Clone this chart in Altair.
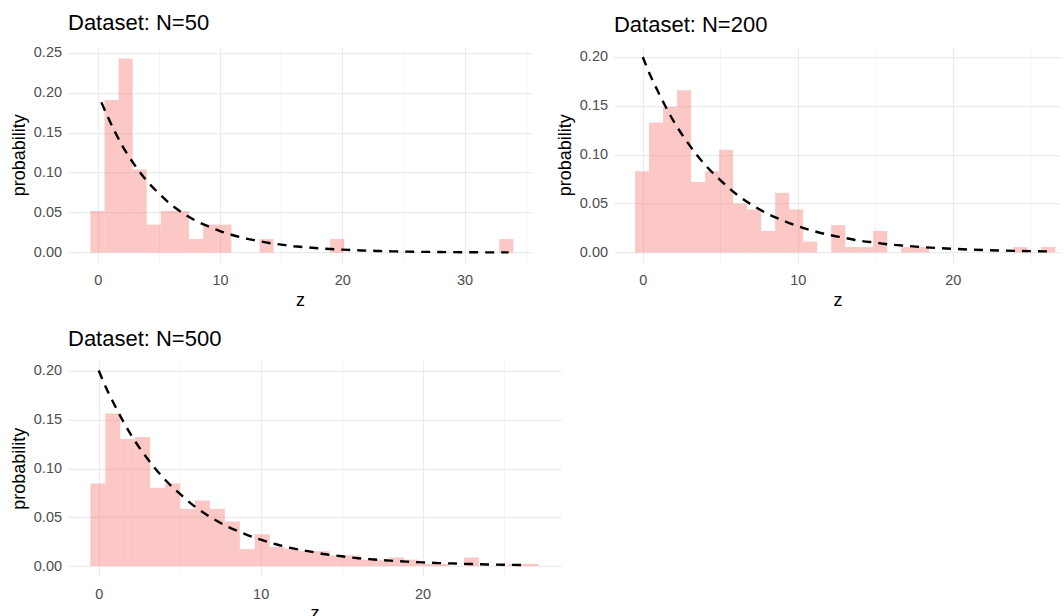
import altair as alt
import pandas as pd

FONT = "Liberation Sans"
BAR_COLOR = "#F8766D"

# ---------------- data ----------------
# Panel titles
titles = ["Dataset: N=50", "Dataset: N=200", "Dataset: N=500"]

# Histogram bins: first bin edge and bin width (z units), and bar heights (probability density)
p1_start, p1_width = -0.6, 1.153
p1_prob = [0.052, 0.191, 0.243, 0.104, 0.035, 0.052, 0.052, 0.017, 0.035, 0.035,
           0.0, 0.0, 0.017, 0.0, 0.0, 0.0, 0.0, 0.017, 0.0, 0.0,
           0.0, 0.0, 0.0, 0.0, 0.0, 0.0, 0.0, 0.0, 0.0, 0.017]

p2_start, p2_width = -0.5, 0.904
p2_prob = [0.083, 0.133, 0.149, 0.166, 0.072, 0.083, 0.105, 0.050, 0.044, 0.022,
           0.061, 0.044, 0.011, 0.0, 0.028, 0.0055, 0.0055, 0.022, 0.0, 0.0055,
           0.0055, 0.0, 0.0, 0.0, 0.0, 0.0, 0.0, 0.0055, 0.0, 0.0055]

p3_start, p3_width = -0.52, 0.923
p3_prob = [0.0845, 0.156, 0.130, 0.132, 0.080, 0.0845, 0.0585, 0.067, 0.0585, 0.0455,
           0.0173, 0.0325, 0.0195, 0.0173, 0.0152, 0.0152, 0.0108, 0.0108, 0.0065, 0.0065,
           0.0087, 0.0065, 0.0022, 0.0022, 0.0, 0.0087, 0.0, 0.0, 0.0022, 0.0022]

# Dashed reference density curve
curve_z = [0, 0.3, 1, 2, 3, 4, 5, 6, 7, 8, 9, 10, 11, 12, 13, 14, 15, 16, 17, 18,
           19, 20, 21, 22, 23, 24, 25, 26, 26.3, 27, 28, 29, 30, 31, 32, 33, 33.6]
curve_p = [0.200, 0.188, 0.164, 0.134, 0.110, 0.090, 0.074, 0.060, 0.049, 0.040,
           0.033, 0.027, 0.022, 0.018, 0.015, 0.012, 0.010, 0.008, 0.0067, 0.0055,
           0.0045, 0.0037, 0.0030, 0.0025, 0.0020, 0.0016, 0.0013, 0.0011, 0.0010,
           0.0009, 0.0007, 0.0006, 0.0005, 0.0004, 0.0003, 0.0003, 0.00025]
# z-range over which each panel's curve is drawn
curve_ranges = [(0.3, 33.6), (0.0, 26.3), (0.0, 26.3)]

# Axis tick values (major + minor grid)
x_ticks_1 = [0, 5, 10, 15, 20, 25, 30, 35]
x_ticks_2 = [0, 5, 10, 15, 20, 25]
y_ticks_1 = [0, 0.025, 0.05, 0.075, 0.1, 0.125, 0.15, 0.175, 0.2, 0.225, 0.25]
y_ticks_2 = [0, 0.025, 0.05, 0.075, 0.1, 0.125, 0.15, 0.175, 0.2]

curve_df = pd.DataFrame({"z": curve_z, "p": curve_p})


def bars_df(start, width, probs):
    rows = []
    for i, p in enumerate(probs):
        if p > 0:
            lo = start + i * width
            rows.append({"z0": lo, "z1": lo + width, "p": p, "base": 0.0})
    return pd.DataFrame(rows)


def grid_width(test):
    return {"condition": {"test": test, "value": 1.2}, "value": 0.6}


def x_axis(values):
    test = "datum.value % 10 === 0"
    return alt.Axis(
        values=values, title="z",
        labelExpr=f"{test} ? datum.label : ''",
        grid=True, gridColor="#EBEBEB", gridWidth=grid_width(test),
        ticks=False, tickSize=0, domain=False,
        labelColor="#4D4D4D", labelFontSize=14.5, labelPadding=11.5,
        labelOverlap=False, labelFlush=False, labelFont=FONT,
        titleFont=FONT, titleFontSize=18, titleFontWeight="normal",
        titleColor="black", titlePadding=4,
    )


def y_axis(values):
    test = "round(datum.value * 1000) % 50 === 0"
    return alt.Axis(
        values=values, title="probability", format=".2f",
        labelExpr=f"{test} ? datum.label : ''",
        grid=True, gridColor="#EBEBEB", gridWidth=grid_width(test),
        ticks=False, tickSize=0, domain=False,
        labelColor="#4D4D4D", labelFontSize=14.5, labelPadding=6.5,
        labelOverlap=False, labelFlush=False, labelFont=FONT,
        titleFont=FONT, titleFontSize=18, titleFontWeight="normal",
        titleColor="black", titlePadding=5,
    )


def panel(title, start, width, probs, crange, xdom, ydom, xticks, yticks, w, h):
    xs = alt.Scale(domain=xdom, nice=False, zero=False)
    ys = alt.Scale(domain=ydom, nice=False, zero=False)
    bars = alt.Chart(bars_df(start, width, probs)).mark_rect(
        color=BAR_COLOR, opacity=0.4, strokeWidth=0
    ).encode(
        x=alt.X("z0:Q", scale=xs, axis=x_axis(xticks)),
        x2="z1:Q",
        y=alt.Y("p:Q", scale=ys, axis=y_axis(yticks)),
        y2="base:Q",
    )
    lo, hi = crange
    curve = alt.Chart(curve_df).transform_filter(
        f"datum.z >= {lo} && datum.z <= {hi}"
    ).mark_line(
        color="black", strokeDash=[9, 7], strokeWidth=2.4, interpolate="monotone"
    ).encode(
        x=alt.X("z:Q", scale=xs),
        y=alt.Y("p:Q", scale=ys),
    )
    return alt.layer(bars, curve).properties(
        width=w, height=h,
        title=alt.TitleParams(
            title, anchor="start", frame="group", fontSize=22, font=FONT,
            fontWeight="normal", color="black", baseline="alphabetic", offset=-7.3,
        ),
    )


p1 = panel(titles[0], p1_start, p1_width, p1_prob, curve_ranges[0],
           [-2.43, 35.51], [-0.012, 0.257], x_ticks_1, y_ticks_1, 464, 215)
p2 = panel(titles[1], p2_start, p2_width, p2_prob, curve_ranges[1],
           [-1.856, 26.98], [-0.01, 0.21], x_ticks_2, y_ticks_2, 447, 215)
p3 = panel(titles[2], p3_start, p3_width, p3_prob, curve_ranges[2],
           [-1.9, 28.55], [-0.01, 0.21], x_ticks_2, y_ticks_2, 493, 215)

chart = alt.concat(
    p1, p2, p3, columns=2, spacing={"column": 53, "row": 98.6}, bounds="flush"
).properties(
    padding={"left": 10, "top": 11.2, "right": 0, "bottom": 0},
    background="white",
).configure(font=FONT).configure_view(stroke=None, strokeWidth=0)

chart.save("out.html", embed_options={"renderer": "svg", "actions": False})
